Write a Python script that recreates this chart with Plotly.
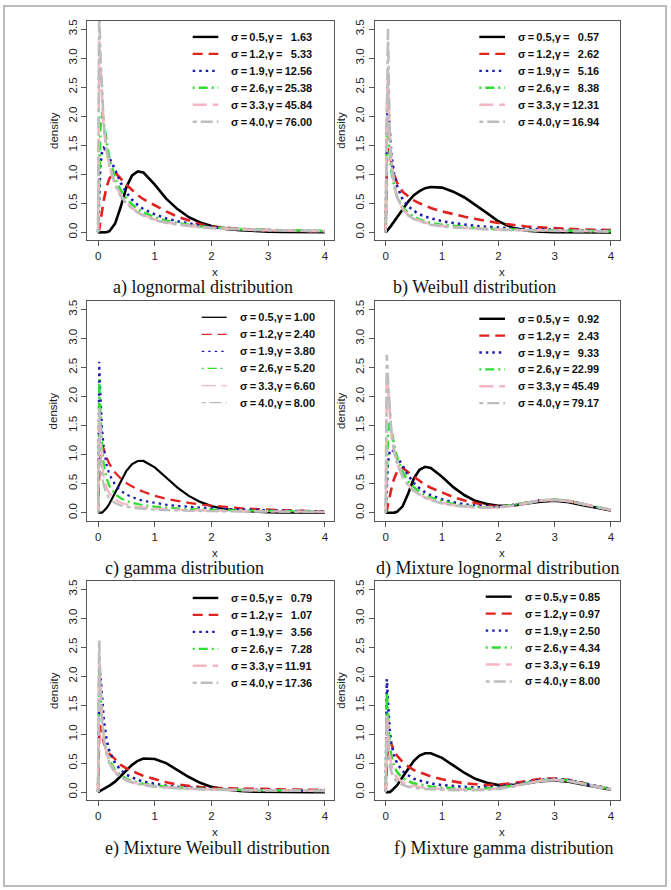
import plotly.graph_objects as go

W, H = 671, 890

# ---------------- data ----------------
X_GRID = [0, 0.02, 0.04, 0.07, 0.1, 0.15, 0.2, 0.3, 0.4, 0.5, 0.6, 0.7, 0.8, 1.0,
          1.2, 1.4, 1.6, 1.8, 2.0, 2.25, 2.5, 2.75, 3.0, 3.25, 3.5, 3.75, 4.0]

SIGMAS = ["0.5", "1.2", "1.9", "2.6", "3.3", "4.0"]

GAMMA_A = ["1.63", "5.33", "12.56", "25.38", "45.84", "76.00"]
GAMMA_B = ["0.57", "2.62", "5.16", "8.38", "12.31", "16.94"]
GAMMA_C = ["1.00", "2.40", "3.80", "5.20", "6.60", "8.00"]
GAMMA_D = ["0.92", "2.43", "9.33", "22.99", "45.49", "79.17"]
GAMMA_E = ["0.79", "1.07", "3.56", "7.28", "11.91", "17.36"]
GAMMA_F = ["0.85", "0.97", "2.50", "4.34", "6.19", "8.00"]

CAPTIONS = ["a) lognormal distribution", "b) Weibull distribution",
            "c) gamma distribution", "d) Mixture lognormal distribution",
            "e) Mixture Weibull distribution", "f) Mixture gamma distribution"]

PANEL_A = [
    [0, 0, 0, 0, 0, 0.002, 0.02, 0.15, 0.44, 0.78, 0.98, 1.05, 1.03, 0.82, 0.58, 0.40, 0.26, 0.17, 0.11, 0.06, 0.035, 0.02, 0.012, 0.008, 0.005, 0.003, 0.002],
    [0, 0.05, 0.18, 0.38, 0.55, 0.78, 0.93, 1.03, 0.92, 0.82, 0.73, 0.64, 0.57, 0.46, 0.36, 0.27, 0.2, 0.14, 0.1, 0.075, 0.058, 0.045, 0.036, 0.03, 0.025, 0.021, 0.018],
    [0, 0.7, 1.15, 1.38, 1.45, 1.4, 1.28, 1.08, 0.85, 0.68, 0.56, 0.47, 0.4, 0.31, 0.24, 0.19, 0.15, 0.12, 0.09, 0.07, 0.055, 0.045, 0.037, 0.031, 0.026, 0.022, 0.019],
    [0, 1.0, 1.8, 2.07, 1.9, 1.55, 1.27, 0.93, 0.72, 0.58, 0.48, 0.4, 0.34, 0.26, 0.2, 0.16, 0.13, 0.1, 0.085, 0.068, 0.056, 0.047, 0.04, 0.034, 0.03, 0.026, 0.023],
    [0, 3.3, 2.9, 2.2, 1.8, 1.4, 1.15, 0.83, 0.64, 0.51, 0.42, 0.35, 0.3, 0.22, 0.17, 0.14, 0.11, 0.09, 0.075, 0.06, 0.05, 0.042, 0.036, 0.031, 0.027, 0.024, 0.021],
    [0, 3.9, 3.1, 2.3, 1.85, 1.42, 1.15, 0.82, 0.62, 0.5, 0.41, 0.34, 0.29, 0.21, 0.165, 0.135, 0.11, 0.09, 0.075, 0.06, 0.05, 0.042, 0.036, 0.031, 0.027, 0.024, 0.021],
]

PANEL_B = [
    [0, 0.02, 0.04, 0.08, 0.12, 0.19, 0.27, 0.41, 0.53, 0.64, 0.71, 0.76, 0.78, 0.77, 0.70, 0.60, 0.47, 0.33, 0.19, 0.08, 0.03, 0.01, 0.004, 0.002, 0.001, 0, 0],
    [0, 1.2, 1.45, 1.35, 1.2, 1.0, 0.86, 0.7, 0.62, 0.55, 0.5, 0.46, 0.42, 0.36, 0.31, 0.27, 0.23, 0.19, 0.16, 0.13, 0.1, 0.085, 0.07, 0.06, 0.05, 0.045, 0.04],
    [0, 1.8, 2.25, 1.7, 1.35, 1.0, 0.8, 0.57, 0.45, 0.37, 0.31, 0.27, 0.24, 0.19, 0.16, 0.13, 0.11, 0.095, 0.08, 0.07, 0.06, 0.05, 0.045, 0.04, 0.035, 0.03, 0.028],
    [0, 1.9, 1.7, 1.3, 1.05, 0.8, 0.62, 0.43, 0.33, 0.27, 0.22, 0.19, 0.16, 0.13, 0.11, 0.09, 0.075, 0.065, 0.055, 0.048, 0.04, 0.036, 0.032, 0.028, 0.025, 0.022, 0.02],
    [0, 2.2, 2.8, 1.6, 1.15, 0.8, 0.6, 0.4, 0.3, 0.24, 0.2, 0.17, 0.14, 0.11, 0.09, 0.075, 0.065, 0.055, 0.047, 0.04, 0.035, 0.03, 0.027, 0.024, 0.021, 0.019, 0.017],
    [0, 2.6, 3.5, 1.8, 1.25, 0.85, 0.62, 0.4, 0.29, 0.23, 0.19, 0.16, 0.13, 0.1, 0.085, 0.07, 0.06, 0.05, 0.043, 0.037, 0.032, 0.028, 0.025, 0.022, 0.02, 0.018, 0.016],
]

PANEL_C = [
    [0, 0, 0, 0.001, 0.029, 0.079, 0.153, 0.347, 0.551, 0.722, 0.836, 0.89, 0.891, 0.781, 0.607, 0.433, 0.29, 0.186, 0.114, 0.06, 0.03, 0.015, 0.007, 0.003, 0.001, 0.0005, 0.0002],
    [0, 0.6, 1.1, 1.15, 1.1, 0.95, 0.84, 0.69, 0.59, 0.51, 0.45, 0.4, 0.36, 0.29, 0.24, 0.2, 0.17, 0.14, 0.12, 0.1, 0.08, 0.065, 0.052, 0.043, 0.035, 0.029, 0.024],
    [0, 2.6, 2.1, 1.45, 1.12, 0.82, 0.66, 0.48, 0.38, 0.31, 0.27, 0.23, 0.205, 0.165, 0.137, 0.116, 0.1, 0.087, 0.076, 0.066, 0.056, 0.049, 0.043, 0.038, 0.033, 0.029, 0.026],
    [0, 2.3, 1.8, 1.13, 0.83, 0.59, 0.46, 0.32, 0.25, 0.2, 0.17, 0.145, 0.128, 0.103, 0.085, 0.073, 0.063, 0.055, 0.049, 0.043, 0.038, 0.034, 0.03, 0.027, 0.024, 0.022, 0.02],
    [0, 1.8, 1.43, 0.86, 0.62, 0.43, 0.33, 0.22, 0.17, 0.14, 0.116, 0.1, 0.088, 0.07, 0.059, 0.05, 0.044, 0.038, 0.034, 0.03, 0.027, 0.024, 0.022, 0.02, 0.018, 0.016, 0.015],
    [0, 1.8, 1.1, 0.65, 0.47, 0.32, 0.24, 0.165, 0.125, 0.1, 0.084, 0.073, 0.064, 0.051, 0.043, 0.036, 0.032, 0.028, 0.025, 0.022, 0.02, 0.018, 0.016, 0.015, 0.0135, 0.0125, 0.0115],
]

PANEL_D = [
    [0, 0, 0, 0, 0, 0.002, 0.015, 0.11, 0.33, 0.59, 0.74, 0.79, 0.77, 0.62, 0.44, 0.30, 0.20, 0.15, 0.12, 0.12, 0.16, 0.19, 0.205, 0.18, 0.13, 0.08, 0.04],
    [0, 0.04, 0.14, 0.29, 0.41, 0.59, 0.70, 0.77, 0.69, 0.62, 0.55, 0.48, 0.43, 0.35, 0.27, 0.21, 0.16, 0.12, 0.11, 0.13, 0.17, 0.21, 0.22, 0.20, 0.15, 0.09, 0.05],
    [0, 0.53, 0.86, 1.04, 1.09, 1.05, 0.96, 0.81, 0.64, 0.51, 0.42, 0.35, 0.30, 0.23, 0.18, 0.145, 0.12, 0.11, 0.10, 0.13, 0.17, 0.21, 0.22, 0.20, 0.15, 0.09, 0.05],
    [0, 0.75, 1.35, 1.55, 1.43, 1.16, 0.95, 0.70, 0.54, 0.44, 0.36, 0.30, 0.26, 0.20, 0.15, 0.12, 0.105, 0.09, 0.10, 0.13, 0.17, 0.21, 0.23, 0.20, 0.15, 0.10, 0.05],
    [0, 2.3, 2.18, 1.65, 1.35, 1.05, 0.86, 0.62, 0.48, 0.38, 0.32, 0.26, 0.23, 0.17, 0.13, 0.11, 0.09, 0.085, 0.09, 0.12, 0.17, 0.21, 0.22, 0.20, 0.15, 0.095, 0.05],
    [0, 2.72, 2.3, 1.72, 1.39, 1.07, 0.86, 0.62, 0.47, 0.375, 0.31, 0.255, 0.22, 0.16, 0.125, 0.105, 0.09, 0.085, 0.09, 0.12, 0.17, 0.21, 0.22, 0.20, 0.15, 0.095, 0.05],
]

PANEL_E = [
    [0, 0.01, 0.02, 0.035, 0.05, 0.08, 0.11, 0.18, 0.28, 0.38, 0.47, 0.54, 0.58, 0.57, 0.5, 0.38, 0.26, 0.16, 0.09, 0.045, 0.02, 0.008, 0.003, 0.001, 0, 0, 0],
    [0, 1.0, 1.15, 0.98, 0.86, 0.72, 0.66, 0.57, 0.47, 0.41, 0.36, 0.32, 0.28, 0.22, 0.17, 0.13, 0.105, 0.088, 0.072, 0.065, 0.058, 0.052, 0.048, 0.045, 0.042, 0.04, 0.038],
    [0, 1.8, 2.05, 1.6, 1.25, 0.9, 0.7, 0.5, 0.38, 0.3, 0.25, 0.21, 0.18, 0.14, 0.11, 0.09, 0.075, 0.065, 0.055, 0.048, 0.042, 0.038, 0.034, 0.031, 0.028, 0.026, 0.024],
    [0, 2.1, 1.7, 1.2, 0.95, 0.7, 0.55, 0.38, 0.29, 0.23, 0.19, 0.16, 0.14, 0.11, 0.09, 0.075, 0.063, 0.055, 0.048, 0.042, 0.037, 0.033, 0.03, 0.028, 0.026, 0.024, 0.022],
    [0, 2.3, 1.9, 1.25, 0.95, 0.68, 0.52, 0.35, 0.26, 0.21, 0.17, 0.145, 0.125, 0.098, 0.08, 0.067, 0.057, 0.05, 0.044, 0.039, 0.035, 0.032, 0.029, 0.027, 0.025, 0.023, 0.021],
    [0, 2.62, 1.95, 1.25, 0.93, 0.66, 0.5, 0.33, 0.25, 0.2, 0.165, 0.14, 0.12, 0.095, 0.078, 0.065, 0.055, 0.048, 0.042, 0.037, 0.033, 0.03, 0.028, 0.026, 0.024, 0.022, 0.02],
]

PANEL_F = [
    [0, 0, 0, 0, 0.02, 0.06, 0.115, 0.26, 0.41, 0.54, 0.63, 0.67, 0.67, 0.59, 0.46, 0.33, 0.225, 0.16, 0.12, 0.12, 0.15, 0.19, 0.2, 0.18, 0.13, 0.08, 0.04],
    [0, 0.45, 0.83, 0.86, 0.83, 0.71, 0.63, 0.52, 0.44, 0.38, 0.34, 0.30, 0.27, 0.22, 0.18, 0.15, 0.135, 0.12, 0.13, 0.15, 0.19, 0.23, 0.235, 0.21, 0.16, 0.10, 0.055],
    [0, 1.95, 1.58, 1.09, 0.84, 0.62, 0.5, 0.36, 0.29, 0.23, 0.2, 0.17, 0.15, 0.12, 0.10, 0.09, 0.08, 0.085, 0.095, 0.13, 0.17, 0.21, 0.23, 0.21, 0.155, 0.10, 0.055],
    [0, 1.72, 1.35, 0.85, 0.62, 0.44, 0.35, 0.24, 0.19, 0.15, 0.13, 0.11, 0.096, 0.077, 0.065, 0.058, 0.055, 0.06, 0.075, 0.11, 0.16, 0.20, 0.22, 0.20, 0.15, 0.095, 0.05],
    [0, 1.35, 1.07, 0.65, 0.47, 0.32, 0.25, 0.165, 0.13, 0.105, 0.087, 0.075, 0.066, 0.053, 0.045, 0.04, 0.041, 0.047, 0.063, 0.10, 0.15, 0.195, 0.21, 0.19, 0.145, 0.09, 0.048],
    [0, 1.35, 0.83, 0.49, 0.35, 0.24, 0.18, 0.124, 0.094, 0.075, 0.063, 0.055, 0.048, 0.038, 0.033, 0.03, 0.032, 0.039, 0.056, 0.094, 0.145, 0.19, 0.21, 0.19, 0.14, 0.086, 0.046],
]

X_TICKS = [0, 1, 2, 3, 4]
Y_TICKS = [0.0, 0.5, 1.0, 1.5, 2.0, 2.5, 3.0, 3.5]

# ---------------- styles ----------------
COLORS = ["#000000", "#e0231f", "#1c1cb0", "#2fdc2f", "#f3b6c2", "#bdbdbd"]
DASHES = ["solid", "10px,6px", "2.5px,4px", "2px,4px,9px,4px", "14px,6px", "4px,4px,12px,4px"]

# panel boxes in pixels: (left, right, top, bottom)
COLS = [(87.3, 334.0), (375.0, 620.0)]
ROWS = [(19.0, 239.0), (300.0, 520.0), (580.5, 800.0)]
X_RANGE = [-0.19, 4.16]
Y_RANGE = [-0.14, 3.64]

panels = [PANEL_A, PANEL_B, PANEL_C, PANEL_D, PANEL_E, PANEL_F]
gammas = [GAMMA_A, GAMMA_B, GAMMA_C, GAMMA_D, GAMMA_E, GAMMA_F]
# legend geometry per panel: line x0, line x1, text x, first row y, row step
LEG = [
    (192.7, 218.3, 229.0, 35.0, 17.0),
    (479.3, 505.0, 515.7, 35.0, 17.0),
    (201.7, 226.7, 238.3, 316.0, 17.1),
    (479.3, 505.0, 515.7, 317.5, 16.9),
    (192.7, 218.3, 229.0, 597.3, 17.0),
    (485.7, 511.7, 522.7, 596.0, 17.0),
]
CAP_POS = [(203, 286.5), (475, 286.5), (184, 567.5), (498, 567.5), (217, 848.5), (503, 848.5)]

THIN = "\u2009"
FIG_SP = "\u2007"


def px(x):
    return x / W


def py(y):
    return 1 - y / H


fig = go.Figure()
layout = dict(width=W, height=H, margin=dict(l=0, r=0, t=0, b=0),
              paper_bgcolor="white", plot_bgcolor="white", showlegend=False)
annotations = []
shapes = []

TICKFONT = dict(family="Liberation Sans, Arial, sans-serif", size=11.5, color="#222")

for i, data in enumerate(panels):
    r, c = divmod(i, 2)
    left, right = COLS[c]
    top, bottom = ROWS[r]
    n = i + 1
    xa = "xaxis" if n == 1 else f"xaxis{n}"
    ya = "yaxis" if n == 1 else f"yaxis{n}"
    xr = "x" if n == 1 else f"x{n}"
    yr = "y" if n == 1 else f"y{n}"
    lw = 2.2 if i == 2 else 2.6
    for k, ys in enumerate(data):
        fig.add_trace(go.Scatter(x=X_GRID, y=ys, mode="lines", xaxis=xr, yaxis=yr,
                                 line=dict(color=COLORS[k], width=lw, dash=DASHES[k]),
                                 hoverinfo="skip"))
    layout[xa] = dict(domain=[px(left), px(right)], range=X_RANGE, anchor=yr,
                      tickvals=X_TICKS, ticks="outside", ticklen=5, tickcolor="#555",
                      showline=True, mirror=True, linecolor="#555", linewidth=1,
                      showgrid=False, zeroline=False, tickfont=TICKFONT)
    layout[ya] = dict(domain=[py(bottom), py(top)], range=Y_RANGE, anchor=xr,
                      tickvals=Y_TICKS, tickformat=".1f", ticks="outside", ticklen=5,
                      tickcolor="#555", tickangle=-90,
                      showline=True, mirror=True, linecolor="#555", linewidth=1,
                      showgrid=False, zeroline=False, tickfont=TICKFONT)
    # axis titles
    annotations.append(dict(text="x", x=px((left + right) / 2 + 4), y=py(bottom + 32),
                            xref="paper", yref="paper", showarrow=False,
                            font=TICKFONT, xanchor="center", yanchor="middle"))
    annotations.append(dict(text="density", x=px(left - 34), y=py((top + bottom) / 2),
                            xref="paper", yref="paper", showarrow=False, textangle=-90,
                            font=TICKFONT, xanchor="center", yanchor="middle"))
    # caption
    cx, cy = CAP_POS[i]
    annotations.append(dict(text=CAPTIONS[i], x=px(cx), y=py(cy), xref="paper", yref="paper",
                            showarrow=False, xanchor="center", yanchor="middle",
                            font=dict(family="Liberation Serif, Times New Roman, serif",
                                      size=18, color="#111")))
    # legend
    lx0, lx1, tx, ly0, step = LEG[i]
    legw = 1.3 if i == 2 else 2.4
    width_num = max(len(g) for g in gammas[i])
    for k in range(6):
        yy = ly0 + k * step
        shapes.append(dict(type="line", xref="paper", yref="paper",
                           x0=px(lx0), x1=px(lx1), y0=py(yy), y1=py(yy),
                           line=dict(color=COLORS[k], width=legw, dash=DASHES[k])))
        g = gammas[i][k]
        pad = FIG_SP * (width_num - len(g))
        label = f"σ{THIN}={THIN}{SIGMAS[k]},γ{THIN}={THIN}{pad}{g}"
        annotations.append(dict(text=f"<b>{label}</b>", x=px(tx), y=py(yy),
                                xref="paper", yref="paper", showarrow=False,
                                xanchor="left", yanchor="middle",
                                font=dict(family="Liberation Sans, Arial, sans-serif",
                                          size=11, color="#111")))

# outer frame
shapes.append(dict(type="rect", xref="paper", yref="paper", x0=px(4), x1=px(666),
                   y0=py(886), y1=py(4), line=dict(color="#bbbbbb", width=2)))

layout["annotations"] = annotations
layout["shapes"] = shapes
fig.update_layout(**layout)
fig.write_html("out.html")
